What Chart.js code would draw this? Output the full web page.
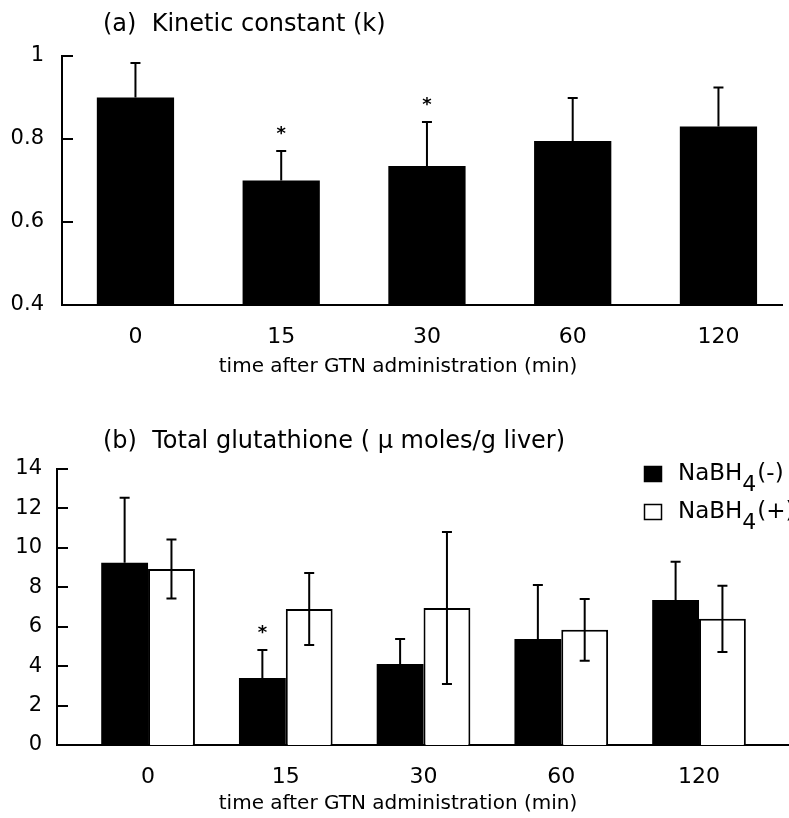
<!DOCTYPE html>
<html>
<head>
<meta charset="utf-8">
<title>GTN: kinetic constant and total glutathione</title>
<style>
    body {
        margin: 0;
        background: #fff;
        font-family: "DejaVu Sans", sans-serif;
    }
    .panel {
        position: absolute;
        left: 0;
        width: 789px;
    }
    #panelA { top: 0; height: 390px; }
    #panelB { top: 400px; height: 418px; }
</style>
</head>
<body>
<div class="panel" id="panelA"><canvas id="kineticChart" width="789" height="390"></canvas></div>
<div class="panel" id="panelB"><canvas id="glutathioneChart" width="789" height="418"></canvas></div>

<script src="https://cdn.jsdelivr.net/npm/chart.js"></script>
<script>
// data
const timePoints = ['0', '15', '30', '60', '120'];

const kineticValues = [0.90, 0.70, 0.735, 0.795, 0.83];
const kineticErrors = [0.083, 0.071, 0.106, 0.104, 0.094];
const kineticStars = [false, true, true, false, false];

const seriesNames = ['NaBH4(-)', 'NaBH4(+)'];
const gshMinus = [9.24, 3.40, 4.11, 5.38, 7.36];
const gshMinusErr = [3.30, 1.42, 1.27, 2.74, 1.93];
const gshMinusStars = [false, true, false, false, false];
const gshPlus = [8.93, 6.90, 6.95, 5.84, 6.40];
const gshPlusErr = [1.50, 1.83, 3.86, 1.57, 1.68];

const kTicks = [0.4, 0.6, 0.8, 1];
const gshTicks = [0, 2, 4, 6, 8, 10, 12, 14];

const FONT = '"DejaVu Sans", sans-serif';
Chart.defaults.font.family = FONT;
Chart.defaults.color = '#000';

function toPoints(values) {
    return values.map((v, i) => ({ x: i, y: v }));
}

// error bars + significance stars, placed through the chart's scales
const errorBars = {
    id: 'errorBars',
    afterDatasetsDraw(chart) {
        const ctx = chart.ctx;
        const yScale = chart.scales.y;
        chart.data.datasets.forEach((ds, i) => {
            const meta = chart.getDatasetMeta(i);
            meta.data.forEach((bar, j) => {
                const v = ds.data[j].y;
                const e = ds.errors[j];
                const top = yScale.getPixelForValue(v + e);
                const bottom = ds.errorBoth ? yScale.getPixelForValue(v - e) : bar.y;
                ctx.save();
                ctx.strokeStyle = '#000';
                ctx.lineWidth = 2;
                ctx.beginPath();
                ctx.moveTo(bar.x, top);
                ctx.lineTo(bar.x, bottom);
                ctx.moveTo(bar.x - 5, top);
                ctx.lineTo(bar.x + 5, top);
                if (ds.errorBoth) {
                    ctx.moveTo(bar.x - 5, bottom);
                    ctx.lineTo(bar.x + 5, bottom);
                }
                ctx.stroke();
                if (ds.stars && ds.stars[j]) {
                    ctx.fillStyle = '#000';
                    ctx.font = 'bold 18px ' + FONT;
                    ctx.textAlign = 'center';
                    ctx.textBaseline = 'middle';
                    ctx.fillText('*', bar.x, top - 17);
                }
                ctx.restore();
            });
        });
    }
};

// y ticks point into the plot
const inwardTicks = {
    id: 'inwardTicks',
    afterDraw(chart) {
        const ctx = chart.ctx;
        const y = chart.scales.y;
        const left = chart.chartArea.left;
        ctx.save();
        ctx.strokeStyle = '#000';
        ctx.lineWidth = 2;
        y.ticks.forEach(t => {
            const py = Math.round(y.getPixelForValue(t.value));
            ctx.beginPath();
            ctx.moveTo(left, py);
            ctx.lineTo(left + 11, py);
            ctx.stroke();
        });
        ctx.restore();
    }
};

// panel heading and x axis caption
const panelText = {
    id: 'panelText',
    afterDraw(chart, args, opts) {
        const ctx = chart.ctx;
        ctx.save();
        ctx.fillStyle = '#000';
        ctx.textBaseline = 'middle';
        ctx.font = '24px ' + FONT;
        ctx.textAlign = 'left';
        ctx.fillText(opts.heading, opts.headingX, opts.headingY);
        ctx.font = '20px ' + FONT;
        ctx.textAlign = 'center';
        ctx.fillText(opts.caption, opts.captionX, opts.captionY);
        ctx.restore();
    }
};

// legend with subscript digit
const subLegend = {
    id: 'subLegend',
    afterDraw(chart, args, opts) {
        if (!opts.show) return;
        const ctx = chart.ctx;
        ctx.save();
        chart.data.datasets.forEach((ds, i) => {
            const cy = opts.y + i * opts.rowGap;
            ctx.fillStyle = ds.backgroundColor;
            ctx.fillRect(opts.x, cy - 8, 18, 16);
            ctx.strokeStyle = '#000';
            ctx.lineWidth = 1.5;
            ctx.strokeRect(opts.x + 0.5, cy - 7.5, 17, 15);
            const m = ds.label.match(/^(.*?)(\d)(.*)$/);
            let x = opts.x + 34;
            ctx.fillStyle = '#000';
            ctx.textAlign = 'left';
            ctx.textBaseline = 'middle';
            ctx.font = '23px ' + FONT;
            ctx.fillText(m[1], x, cy);
            x += ctx.measureText(m[1]).width;
            ctx.font = '22px ' + FONT;
            ctx.fillText(m[2], x, cy + 11);
            x += ctx.measureText(m[2]).width + 1;
            ctx.font = '23px ' + FONT;
            ctx.fillText(m[3], x, cy);
        });
        ctx.restore();
    }
};

function makeOptions(cfg) {
    return {
        responsive: false,
        animation: false,
        layout: { padding: cfg.padding },
        plugins: {
            legend: { display: false },
            tooltip: { enabled: false },
            panelText: cfg.text,
            subLegend: cfg.legend || { show: false }
        },
        scales: {
            x: {
                type: 'linear',
                offset: false,
                min: cfg.xMin,
                max: cfg.xMax,
                grid: { display: false, drawTicks: false },
                border: { display: true, color: '#000', width: 2 },
                afterBuildTicks: s => { s.ticks = timePoints.map((_, i) => ({ value: i })); },
                afterFit: s => { s.height = cfg.xHeight; },
                ticks: {
                    autoSkip: false,
                    maxRotation: 0,
                    padding: 19,
                    font: { size: 22 },
                    color: '#000',
                    callback: v => timePoints[v]
                }
            },
            y: {
                min: cfg.yTicks[0],
                max: cfg.yTicks[cfg.yTicks.length - 1],
                grid: { display: false, drawTicks: false },
                border: { display: true, color: '#000', width: 2 },
                afterBuildTicks: s => { s.ticks = cfg.yTicks.map(v => ({ value: v })); },
                afterFit: s => { s.width = cfg.yWidth; },
                ticks: {
                    padding: cfg.yPad,
                    font: { size: 21 },
                    color: '#000',
                    callback: v => String(+v.toFixed(2))
                }
            }
        }
    };
}

new Chart(document.getElementById('kineticChart'), {
    type: 'bar',
    data: {
        datasets: [{
            label: 'k',
            data: toPoints(kineticValues),
            errors: kineticErrors,
            errorBoth: false,
            stars: kineticStars,
            backgroundColor: '#000',
            barPercentage: 1,
            categoryPercentage: 0.53
        }]
    },
    options: makeOptions({
        padding: { top: 56, right: 7, bottom: 0, left: 0 },
        xMin: -0.504, xMax: 4.436, xHeight: 85,
        yTicks: kTicks, yWidth: 62, yPad: 18,
        text: {
            heading: '(a)  Kinetic constant (k)', headingX: 103, headingY: 25,
            caption: 'time after GTN administration (min)', captionX: 398, captionY: 367
        }
    }),
    plugins: [errorBars, inwardTicks, panelText, subLegend]
});

new Chart(document.getElementById('glutathioneChart'), {
    type: 'bar',
    data: {
        datasets: [{
            label: seriesNames[0],
            data: toPoints(gshMinus),
            errors: gshMinusErr,
            errorBoth: false,
            stars: gshMinusStars,
            backgroundColor: '#000',
            borderColor: '#000',
            borderWidth: 0,
            barPercentage: 1,
            categoryPercentage: 0.68
        }, {
            label: seriesNames[1],
            data: toPoints(gshPlus),
            errors: gshPlusErr,
            errorBoth: true,
            backgroundColor: '#fff',
            borderColor: '#000',
            borderWidth: 2,
            barPercentage: 1,
            categoryPercentage: 0.68
        }]
    },
    options: makeOptions({
        padding: { top: 69, right: 1, bottom: 0, left: 0 },
        xMin: -0.661, xMax: 4.646, xHeight: 73,
        yTicks: gshTicks, yWidth: 57, yPad: 15,
        text: {
            heading: '(b)  Total glutathione ( \u03BC moles/g liver)', headingX: 103, headingY: 42,
            caption: 'time after GTN administration (min)', captionX: 398, captionY: 404
        },
        legend: { show: true, x: 644, y: 74, rowGap: 38 }
    }),
    plugins: [errorBars, inwardTicks, panelText, subLegend]
});
</script>
</body>
</html>
